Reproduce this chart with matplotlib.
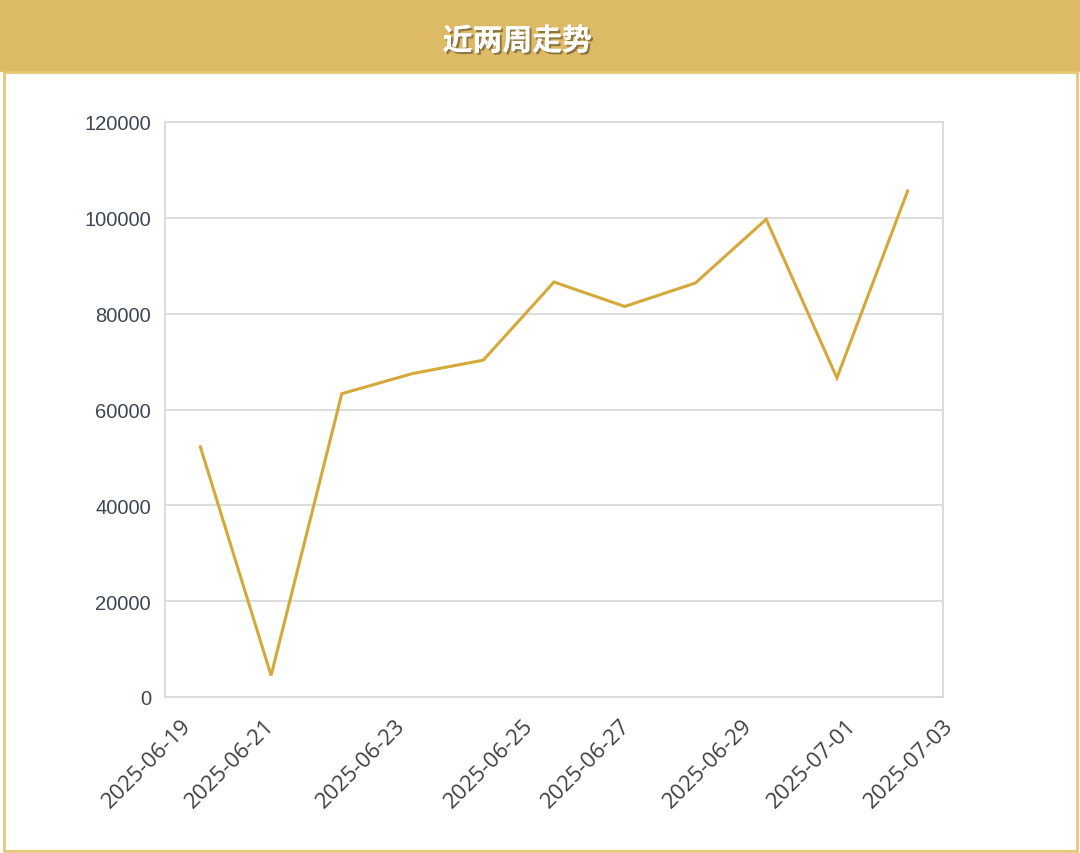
import matplotlib
matplotlib.use('Agg')
import matplotlib.pyplot as plt
import matplotlib.patheffects as pe
from matplotlib.patches import Rectangle

# daily values, last two weeks
values = [52200, 4500, 63300, 67500, 70300, 86600, 81500, 86400, 99700, 66600, 105600]
tick_labels = ['2025-06-19', '2025-06-21', '2025-06-23', '2025-06-25',
               '2025-06-27', '2025-06-29', '2025-07-01', '2025-07-03']
tick_pos = [-0.28, 0.89, 2.75, 4.56, 5.93, 7.65, 9.13, 10.49]
y_ticks = [0, 20000, 40000, 60000, 80000, 100000, 120000]
title = '近两周走势'

gold = '#DDBB66'
line_col = '#D4A93A'

fig = plt.figure(figsize=(10.8, 8.54), dpi=100)
fig.patch.set_facecolor('white')

# header band + frame
fig.patches.append(Rectangle((0, 1 - 73 / 854), 1, 73 / 854, transform=fig.transFigure,
                             facecolor=gold, edgecolor='none', zorder=0))
fig.patches.append(Rectangle((0.004, 0.002), 0.993, 1 - 73 / 854 - 0.002, transform=fig.transFigure,
                             facecolor='none', edgecolor='#E8C674', linewidth=2, zorder=1))
fig.text(0.479, 1 - 42 / 854, title, ha='center', va='center', color='white',
         fontsize=21.5, fontweight='bold', family=['Noto Sans CJK SC', 'DejaVu Sans'],
         path_effects=[pe.withSimplePatchShadow(offset=(1.5, -1.5), shadow_rgbFace='#6b5a30', alpha=0.7),
                       pe.Normal()])

ax = fig.add_axes([165 / 1080, 1 - 698 / 854, (943 - 165) / 1080, (698 - 123) / 854])
x = list(range(len(values)))
ax.plot(x, values, color=line_col, linewidth=2.2, solid_joinstyle='miter')

ax.set_xlim(-0.5, 10.5)
ax.set_ylim(0, 120000)
ax.set_yticks(y_ticks)
ax.set_yticklabels([str(v) for v in y_ticks], family='Liberation Sans', fontsize=14.5, color='#3d4656')
ax.set_xticks(tick_pos)
ax.set_xticklabels(tick_labels, rotation=45, ha='right', va='top', rotation_mode='anchor',
                   family='Open Sans', fontsize=16, color='#404040')

ax.tick_params(axis='both', length=0)
ax.tick_params(axis='y', pad=10)
ax.tick_params(axis='x', pad=13)
ax.grid(axis='y', color='#DADADA', linewidth=1.3)
ax.set_axisbelow(True)
for s in ax.spines.values():
    s.set_color('#D9D9D9')
    s.set_linewidth(1.3)

fig.savefig('out.png', dpi=100)
